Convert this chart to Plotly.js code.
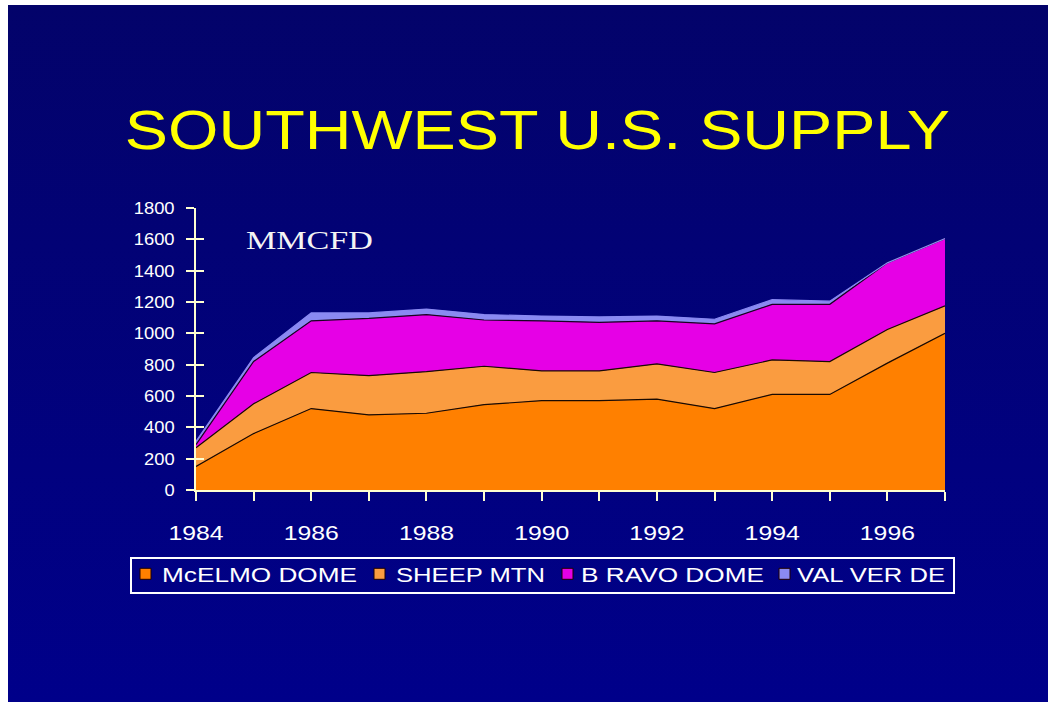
<!DOCTYPE html>
<html>
<head>
<meta charset="utf-8">
<script src="https://cdn.plot.ly/plotly-3.0.1.min.js"></script>
<style>
html,body{margin:0;padding:0;background:#ffffff;width:1048px;height:702px;overflow:hidden;}
#chart{position:absolute;left:8px;top:5px;width:1040px;height:697px;
background:linear-gradient(#03036a,#00008a);}
</style>
</head>
<body>
<div id="chart"></div>
<script>
const years = [1984,1985,1986,1987,1988,1989,1990,1991,1992,1993,1994,1995,1996,1997];
const mcelmo = [150,360,520,480,490,545,570,570,580,520,610,610,810,1000];
const sheep  = [120,190,230,250,265,245,190,190,225,230,220,210,215,175];
const bravo  = [20,270,330,365,365,295,320,310,275,310,355,365,425,430];
const valverde = [20,25,50,35,35,35,30,35,30,30,30,20,0,0];
const seriesNames = ['McELMO DOME','SHEEP MTN','B RAVO DOME','VAL VER DE'];
const seriesColors = ['#ff8000','#fa9c40','#e600e6','#8a8af2'];
const xTickLabels = years.map(y => (y % 2 === 0 && y < 1997) ? String(y) : '');
const yTicks = [0,200,400,600,800,1000,1200,1400,1600,1800];

function area(i, y, lineColor){
  return {x: years, y: y, name: seriesNames[i], type:'scatter', mode:'lines',
    stackgroup:'one', fillcolor: seriesColors[i], showlegend:false,
    line:{color: lineColor, width:1.2}, hoverinfo:'skip'};
}
function legendItem(i){
  return {x:[null], y:[null], name: seriesNames[i], type:'scatter', mode:'markers',
    marker:{symbol:'square', size:11, color: seriesColors[i], line:{color:'#200000', width:1}}, hoverinfo:'skip'};
}
const data = [
  area(0, mcelmo, '#1a0a00'),
  area(1, sheep, '#1a0a00'),
  area(2, bravo, '#1a0020'),
  area(3, valverde, seriesColors[3]),
  legendItem(0), legendItem(1), legendItem(2), legendItem(3),
  {x:[years[0]], y:[0], yaxis:'y2', mode:'markers', marker:{opacity:0}, showlegend:false, hoverinfo:'skip'}
];
const axisCol = '#ffffd0';
const sans = 'Liberation Sans, Arial';
const layout = {
  width:1040, height:697,
  paper_bgcolor:'rgba(0,0,0,0)', plot_bgcolor:'rgba(0,0,0,0)',
  margin:{l:188, r:103, t:203, b:212},
  title:{text:'SOUTHWEST U.S. SUPPLY', font:{family:sans, size:56, color:'#ffff00'},
    x:0.509, xanchor:'center', xref:'container', y:0.822, yref:'container', yanchor:'middle'},
  xaxis:{range:[1984,1997], tickvals:years, ticktext:xTickLabels, showgrid:false, zeroline:false,
    showline:true, linecolor:axisCol, linewidth:2, ticks:'outside', ticklen:9, tickwidth:2, tickcolor:axisCol,
    tickfont:{family:sans, size:21, color:'#ffffff'}, ticklabelstandoff:14},
  yaxis:{range:[0,1800], tickvals:yTicks, showgrid:false, zeroline:false,
    showline:true, linecolor:axisCol, linewidth:2, ticks:'outside', ticklen:8, tickwidth:2, tickcolor:axisCol,
    tickfont:{family:sans, size:17, color:'#ffffff'}, ticklabelstandoff:8},
  yaxis2:{range:[0,1800], overlaying:'y', side:'left', tickvals:yTicks, showticklabels:false, showgrid:false,
    zeroline:false, ticks:'inside', ticklen:8, tickwidth:2, tickcolor:axisCol, showline:false},
  showlegend:true,
  legend:{orientation:'h', xref:'container', x:120/1040, xanchor:'left', yref:'container', y:1-552/697, yanchor:'top',
    traceorder:'normal', bgcolor:'rgba(0,0,0,0)', bordercolor:'#ffffff', borderwidth:2,
    font:{family:sans, size:21, color:'#ffffff'}, itemwidth:30},
  annotations:[{text:'MMCFD', xref:'paper', yref:'paper', x:0.152, y:0.883, showarrow:false,
    font:{family:'Liberation Serif, Times New Roman', size:26, color:'#f4f4f4'}, xanchor:'center', yanchor:'middle'}]
};

// target legend geometry (page px)
const legSquareLeft = [140, 374, 562, 779];
const legTextSpan = [[162,357],[396,545],[581,764],[797,945]];
const legBox = {left:131, right:954, top:558, bottom:593};

function stretch(el, f){
  const w = el.getComputedTextLength();
  el.setAttribute('textLength', (w*f).toFixed(1));
  el.setAttribute('lengthAdjust', 'spacingAndGlyphs');
}
function getT(g){
  const m = (g.getAttribute('transform') || '').match(/translate\(([-\d.]+)[ ,]*([-\d.]*)\)/);
  return m ? [parseFloat(m[1]), parseFloat(m[2] || 0)] : [0,0];
}
Plotly.newPlot('chart', data, layout, {displayModeBar:false, staticPlot:true}).then(gd => {
  const t = gd.querySelector('.gtitle');
  if (t) stretch(t, 825 / t.getComputedTextLength());
  gd.querySelectorAll('.xtick text').forEach(el => stretch(el, 1.18));
  gd.querySelectorAll('.ytick text').forEach(el => stretch(el, 1.08));
  const ann = gd.querySelector('.annotation-text');
  if (ann) stretch(ann, 127 / ann.getComputedTextLength());

  document.querySelectorAll('clipPath[id^="legend"] rect').forEach(r => {
    r.setAttribute('x', -500); r.setAttribute('width', 3000);
    r.setAttribute('y', -500); r.setAttribute('height', 3000);
  });
  gd.querySelectorAll('.legend .traces').forEach((g, i) => {
    const sq = g.querySelector('.legendpoints path');
    const txt = g.querySelector('text.legendtext');
    if (!sq || !txt || i >= legSquareLeft.length) return;
    let [tx, ty] = getT(g);
    const sr = sq.getBoundingClientRect();
    tx += legSquareLeft[i] - sr.left;
    const target = legTextSpan[i];
    txt.setAttribute('textLength', target[1] - target[0]);
    txt.setAttribute('lengthAdjust', 'spacingAndGlyphs');
    g.setAttribute('transform', 'translate(' + tx + ',' + ty + ')');
    const trr = txt.getBoundingClientRect();
    txt.setAttribute('x', parseFloat(txt.getAttribute('x') || 0) + (target[0] - trr.left));
    const tr2 = txt.getBoundingClientRect();
    ty += 563 - tr2.top;
    g.setAttribute('transform', 'translate(' + tx + ',' + ty + ')');
  });
  const bg = gd.querySelector('.legend rect.bg');
  if (bg) {
    const br = bg.getBoundingClientRect();
    bg.setAttribute('x', parseFloat(bg.getAttribute('x') || 0) + (legBox.left - br.left));
    bg.setAttribute('y', parseFloat(bg.getAttribute('y') || 0) + (legBox.top - br.top));
    bg.setAttribute('width', legBox.right - legBox.left);
    bg.setAttribute('height', legBox.bottom - legBox.top);
  }
});
</script>
</body>
</html>
